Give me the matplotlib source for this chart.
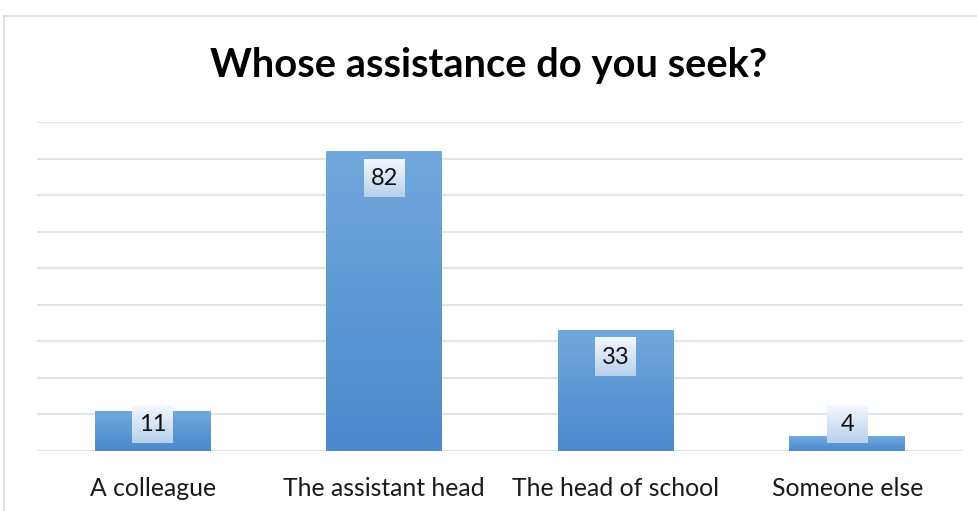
import numpy as np
import matplotlib
matplotlib.use("Agg")
import matplotlib.pyplot as plt
from matplotlib.colors import LinearSegmentedColormap
from matplotlib.lines import Line2D

categories = ["A colleague", "The assistant head", "The head of school", "Someone else"]
values = [11, 82, 33, 4]
title = "Whose assistance do you seek?"

W, H, DPI = 978, 511, 100
fig = plt.figure(figsize=(W / DPI, H / DPI), dpi=DPI)
fig.patch.set_facecolor("white")

# chart frame (left and top edges)
fig.add_artist(Line2D([4 / W, 4 / W], [0, 1 - 16 / H], color="#d9dde3", lw=1.2))
fig.add_artist(Line2D([4 / W, 1], [1 - 16 / H, 1 - 16 / H], color="#d9dde3", lw=1.2))

left, right, base, top = 37, 963, 451, 122
ax = fig.add_axes([left / W, (H - base) / H, (right - left) / W, (base - top) / H])
ymax = 90
for s in ax.spines.values():
    s.set_visible(False)
ax.set_yticks([])
ax.set_xticks(range(len(categories)))
ax.set_xticklabels(categories, fontsize=17.8, family="Lato", color="#1a1a1a")
ax.tick_params(axis="x", length=0, pad=19)

for g in range(0, ymax + 1, 10):
    ax.axhline(g, color="#e1e4ea", lw=1.6, zorder=0)

bar_cmap = LinearSegmentedColormap.from_list("bar", ["#4a89cc", "#72a8dd"])
box_cmap = LinearSegmentedColormap.from_list("box", ["#b6d1ec", "#f4f8fd"])
grad = np.linspace(0, 1, 256).reshape(-1, 1)

bw = 0.5
bars = ax.bar(range(len(values)), values, width=bw, color="none", zorder=2)
for b, v in zip(bars, values):
    x0 = b.get_x()
    im = ax.imshow(grad, cmap=bar_cmap, origin="lower", aspect="auto",
                   extent=[x0, x0 + bw, 0, v], zorder=2)
    im.set_clip_path(b)

# data labels in small gradient boxes
px_y = (base - top) / ymax          # pixels per unit
px_x = (right - left) / len(categories)
box_w = 41 / px_x
box_h = 38 / px_y
gap = 8 / px_y
floor = 8 / px_y
for i, v in enumerate(values):
    ytop = v - gap
    ybot = ytop - box_h
    if ybot < floor:
        ybot = floor
        ytop = ybot + box_h
    ax.imshow(grad, cmap=box_cmap, origin="lower", aspect="auto",
              extent=[i - box_w / 2, i + box_w / 2, ybot, ytop], zorder=3)
    ax.text(i, (ybot + ytop) / 2, str(v), ha="center", va="center",
            fontsize=17, family="Lato", color="#111111", zorder=4)

ax.set_xlim(-0.5, len(categories) - 0.5)
ax.set_ylim(0, ymax)

fig.text(0.5, 1 - 65 / H, title, ha="center", va="center",
         fontsize=28.7, fontweight="bold", family="Lato", color="black")

fig.savefig("out.png", dpi=DPI, facecolor="white")
